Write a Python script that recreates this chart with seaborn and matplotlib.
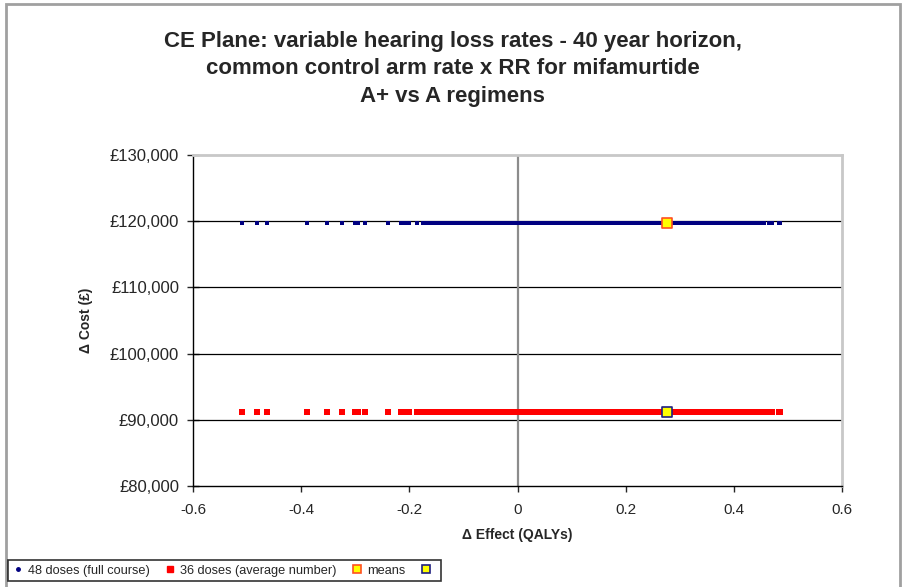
import matplotlib
matplotlib.use("Agg")
import matplotlib.pyplot as plt
from matplotlib.lines import Line2D
from matplotlib.patches import Rectangle
import matplotlib.ticker as mticker
import seaborn as sns
import pandas as pd

# incremental effects (QALYs) of the simulation runs
effects = [
    -0.510, -0.482, -0.464, -0.390, -0.353, -0.325, -0.301, -0.294, -0.282,
    -0.240, -0.216, -0.208, -0.200, -0.185,
    -0.175, -0.169, -0.163, -0.158, -0.151, -0.146, -0.140, -0.133, -0.128,
    -0.122, -0.116, -0.110, -0.104, -0.098, -0.093, -0.087, -0.081, -0.075,
    -0.069, -0.064, -0.058, -0.052, -0.046, -0.040, -0.035, -0.029, -0.023,
    -0.017, -0.011, -0.006, 0.000, 0.006, 0.012, 0.017, 0.023, 0.029, 0.035,
    0.041, 0.046, 0.052, 0.058, 0.064, 0.069, 0.075, 0.081, 0.087, 0.093,
    0.098, 0.104, 0.110, 0.116, 0.121, 0.127, 0.133, 0.139, 0.145, 0.150,
    0.156, 0.162, 0.168, 0.173, 0.179, 0.185, 0.191, 0.197, 0.202, 0.208,
    0.214, 0.220, 0.225, 0.231, 0.237, 0.243, 0.249, 0.254, 0.260, 0.266,
    0.272, 0.277, 0.283, 0.289, 0.295, 0.301, 0.306, 0.312, 0.318, 0.324,
    0.329, 0.335, 0.341, 0.347, 0.353, 0.358, 0.364, 0.370, 0.376, 0.381,
    0.387, 0.393, 0.399, 0.405, 0.410, 0.416, 0.422, 0.428, 0.433, 0.439,
    0.445, 0.450, 0.456, 0.465, 0.471, 0.484, 0.486,
]
cost_48 = 119700   # 48 doses (full course)
cost_36 = 91200    # 36 doses (average number)
mean_effect = 0.277
labels = ["48 doses (full course)", "36 doses (average number)", "means", ""]

df48 = pd.DataFrame({"effect": effects, "cost": cost_48})
df36 = pd.DataFrame({"effect": effects, "cost": cost_36})

sns.set_style("white")
plt.rcParams["font.family"] = ["Liberation Sans", "DejaVu Sans"]

fig = plt.figure(figsize=(9.02, 5.87), dpi=100)
ax = fig.add_axes([193 / 902, 1 - 486 / 587, (842 - 193) / 902, (486 - 155) / 587])

# outer frame of the chart
fig.patches.append(Rectangle((6 / 902, -0.01), (900 - 6) / 902, 1 - 4 / 587 + 0.01,
                             transform=fig.transFigure, fill=False,
                             edgecolor="#a0a0a0", linewidth=2.0, zorder=0))

for v in [90000, 100000, 110000, 120000]:
    ax.axhline(v, color="black", linewidth=0.9, zorder=1)
ax.axvline(0, color="#8c8c8c", linewidth=1.6, zorder=1)

sns.scatterplot(data=df48, x="effect", y="cost", ax=ax, color="#000080",
                marker="s", s=10, linewidth=0, zorder=3)
sns.scatterplot(data=df36, x="effect", y="cost", ax=ax, color="#ff0000",
                marker="s", s=22, linewidth=0, zorder=3)
ax.scatter([mean_effect], [cost_48], marker="s", s=50, color="#ffff00",
           edgecolor="#ff5020", linewidth=1.2, zorder=4)
ax.scatter([mean_effect], [cost_36], marker="s", s=50, color="#ffff00",
           edgecolor="#202080", linewidth=1.2, zorder=4)

ax.set_xlim(-0.6, 0.6)
ax.set_ylim(80000, 130000)
ax.xaxis.set_major_locator(mticker.MultipleLocator(0.2))
ax.yaxis.set_major_locator(mticker.MultipleLocator(10000))
ax.xaxis.set_major_formatter(mticker.FuncFormatter(lambda v, p: "0" if abs(v) < 1e-9 else f"{v:.1f}"))
ax.yaxis.set_major_formatter(mticker.FuncFormatter(lambda v, p: f"£{v:,.0f}"))
ax.tick_params(axis="y", direction="inout", length=8, width=1, labelsize=12, pad=6, left=True)
ax.tick_params(axis="x", direction="out", length=4, width=1, labelsize=11, pad=8, bottom=True)

for side in ["top", "right"]:
    ax.spines[side].set_color("#c8c8c8")
    ax.spines[side].set_linewidth(2)
ax.spines["left"].set_color("black")
ax.spines["bottom"].set_color("black")
ax.spines["left"].set_linewidth(1)
ax.spines["bottom"].set_linewidth(1)

ax.set_xlabel("Δ Effect (QALYs)", fontsize=10, fontweight="bold", labelpad=8)
ax.set_ylabel("Δ Cost (£)", fontsize=10, fontweight="bold", labelpad=12)

fig.text(0.502, 1 - 69 / 587,
         "CE Plane: variable hearing loss rates - 40 year horizon,\n"
         "common control arm rate x RR for mifamurtide\n"
         "A+ vs A regimens",
         ha="center", va="center", fontsize=16, fontweight="bold", linespacing=1.42)

handles = [
    Line2D([], [], linestyle="none", marker="o", markersize=2.5, color="#000080"),
    Line2D([], [], linestyle="none", marker="s", markersize=5, color="#ff0000"),
    Line2D([], [], linestyle="none", marker="s", markersize=6, markerfacecolor="#ffff00",
           markeredgecolor="#ff5020", markeredgewidth=1.2),
    Line2D([], [], linestyle="none", marker="s", markersize=6, markerfacecolor="#ffff00",
           markeredgecolor="#202080", markeredgewidth=1.2),
]
leg = fig.legend(handles, labels, loc="lower left", bbox_to_anchor=(8 / 902, 1 - 581 / 587),
                 ncol=4, fontsize=9.2, frameon=True, fancybox=False,
                 handlelength=0.8, handletextpad=0.4, columnspacing=1.2,
                 borderpad=0.35, borderaxespad=0)
leg.get_frame().set_edgecolor("black")
leg.get_frame().set_linewidth(1.2)

fig.savefig("out.png", dpi=100)
